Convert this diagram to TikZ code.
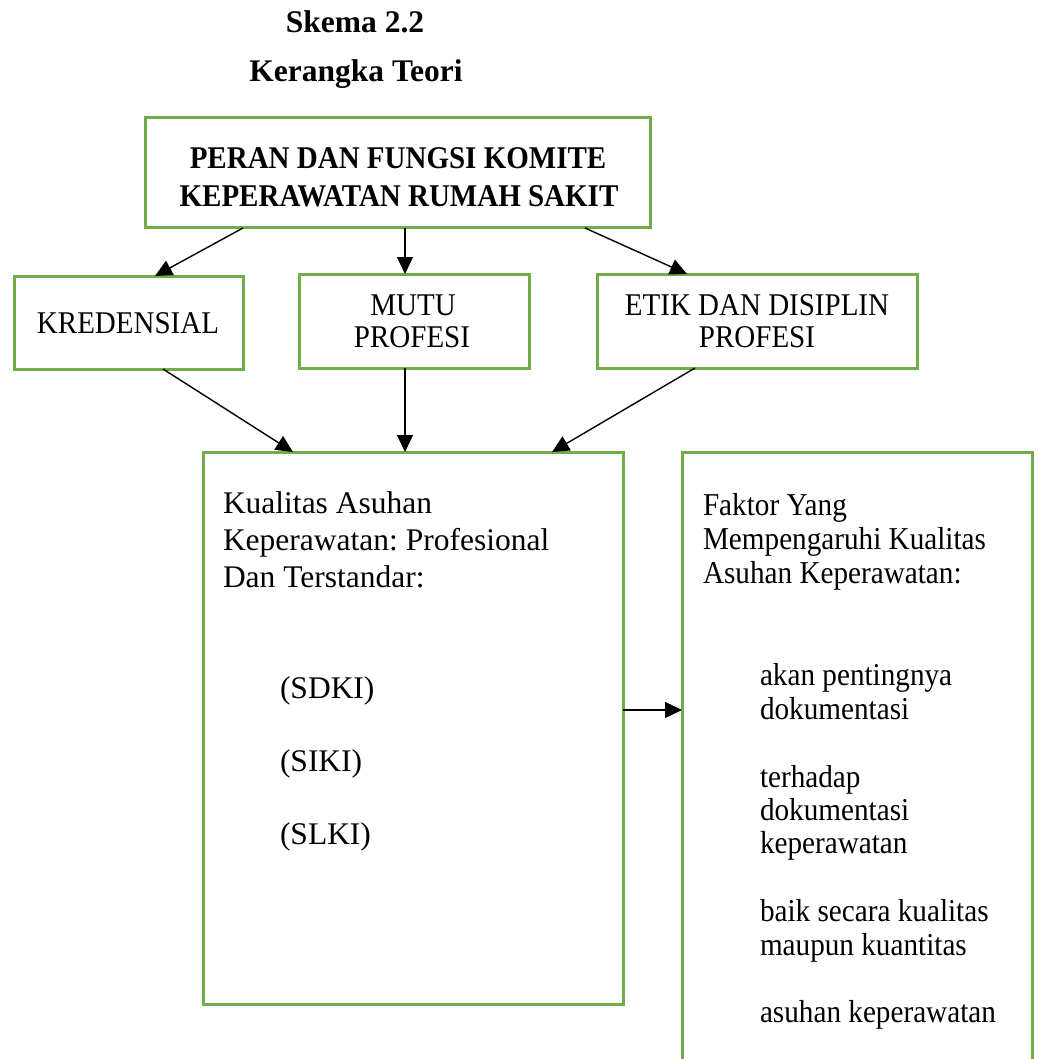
\documentclass[tikz,border=0pt]{standalone}
\usepackage{fontspec}
\usepackage{graphicx}
\setmainfont{Liberation Serif}
\usetikzlibrary{arrows.meta}
\definecolor{boxgreen}{HTML}{70AD47}
\newcommand{\vstretch}[1]{\scalebox{1}[1.09]{#1}}
\frenchspacing
\begin{document}
\begin{tikzpicture}[x=1pt,y=-1pt,
  box/.style={draw=boxgreen, line width=3pt, rectangle, inner sep=0pt, outer sep=0pt},
  ttl/.style={inner sep=0pt, outer sep=0pt, anchor=base, font=\fontsize{31.5}{36}\selectfont\bfseries},
  hdr/.style={inner sep=0pt, outer sep=0pt, anchor=base, font=\fontsize{29}{34}\selectfont\bfseries},
  lbl/.style={inner sep=0pt, outer sep=0pt, anchor=base, font=\fontsize{29}{34}\selectfont},
  ltxt/.style={inner sep=0pt, outer sep=0pt, anchor=base west, font=\fontsize{31.5}{36}\selectfont},
  rtxt/.style={inner sep=0pt, outer sep=0pt, anchor=base west, font=\fontsize{29.2}{34}\selectfont},
  conn/.style={line width=1.4pt, -{Triangle[length=17pt,width=16pt]}}
]
\path[use as bounding box] (0,0) rectangle (1038,1059);
\clip (0,0) rectangle (1038,1059);

% titles
\node[ttl] (t1) at (355,33) {Skema 2.2};
\node[ttl] (t2) at (356,82) {Kerangka Teori};

% boxes
\node[box, minimum width=505pt, minimum height=110pt] (top) at (397.5,173) {};
\node[box, minimum width=229pt, minimum height=93pt] (kred) at (128.5,322.5) {};
\node[box, minimum width=230pt, minimum height=94pt] (mutu) at (414,321) {};
\node[box, minimum width=320pt, minimum height=94pt] (etik) at (757,321) {};
\node[box, minimum width=420pt, minimum height=552pt] (qual) at (413,728) {};
\node[box, minimum width=350pt, minimum height=623pt] (fakt) at (857,763.5) {};

% texts
\node[hdr] (h1) at (398,169) {\vstretch{PERAN DAN FUNGSI KOMITE}};
\node[hdr] (h2) at (399,207) {\vstretch{KEPERAWATAN RUMAH SAKIT}};
\node[lbl] (k1) at (128,333) {\vstretch{KREDENSIAL}};
\node[lbl] (m1) at (413,315) {\vstretch{MUTU}};
\node[lbl] (m2) at (412,347) {\vstretch{PROFESI}};
\node[lbl] (e1) at (757,315) {\vstretch{ETIK DAN DISIPLIN}};
\node[lbl] (e2) at (757,347) {\vstretch{PROFESI}};

\node[ltxt] (q1) at (223,513) {Kualitas Asuhan};
\node[ltxt] (q2) at (223,550) {Keperawatan: Profesional};
\node[ltxt] (q3) at (223,587) {Dan Terstandar:};
\node[ltxt] (q4) at (280,698) {(SDKI)};
\node[ltxt] (q5) at (280,771) {(SIKI)};
\node[ltxt] (q6) at (280,844) {(SLKI)};

\node[rtxt] (f1) at (703,515) {\vstretch{Faktor Yang}};
\node[rtxt] (f2) at (703,549) {\vstretch{Mempengaruhi Kualitas}};
\node[rtxt] (f3) at (703,583) {\vstretch{Asuhan Keperawatan:}};
\node[rtxt] (f4) at (760,685) {\vstretch{akan pentingnya}};
\node[rtxt] (f5) at (760,719) {\vstretch{dokumentasi}};
\node[rtxt] (f6) at (760,787) {\vstretch{terhadap}};
\node[rtxt] (f7) at (760,820) {\vstretch{dokumentasi}};
\node[rtxt] (f8) at (760,853) {\vstretch{keperawatan}};
\node[rtxt] (f9) at (760,921) {\vstretch{baik secara kualitas}};
\node[rtxt] (f10) at (760,955) {\vstretch{maupun kuantitas}};
\node[rtxt] (f11) at (760,1022) {\vstretch{asuhan keperawatan}};

% connectors
\draw[conn] (243,0 |- top.south) -- (155,0 |- kred.north);
\draw[conn] (405,0 |- top.south) -- (405,0 |- mutu.north);
\draw[conn] (585,0 |- top.south) -- (687,0 |- etik.north);
\draw[conn] (163,0 |- kred.south) -- (293,0 |- qual.north);
\draw[conn] (405,0 |- mutu.south) -- (405,0 |- qual.north);
\draw[conn] (695,0 |- etik.south) -- (552,0 |- qual.north);
\draw[conn] (qual.east |- 0,710) -- (fakt.west |- 0,710);
\end{tikzpicture}
\end{document}
